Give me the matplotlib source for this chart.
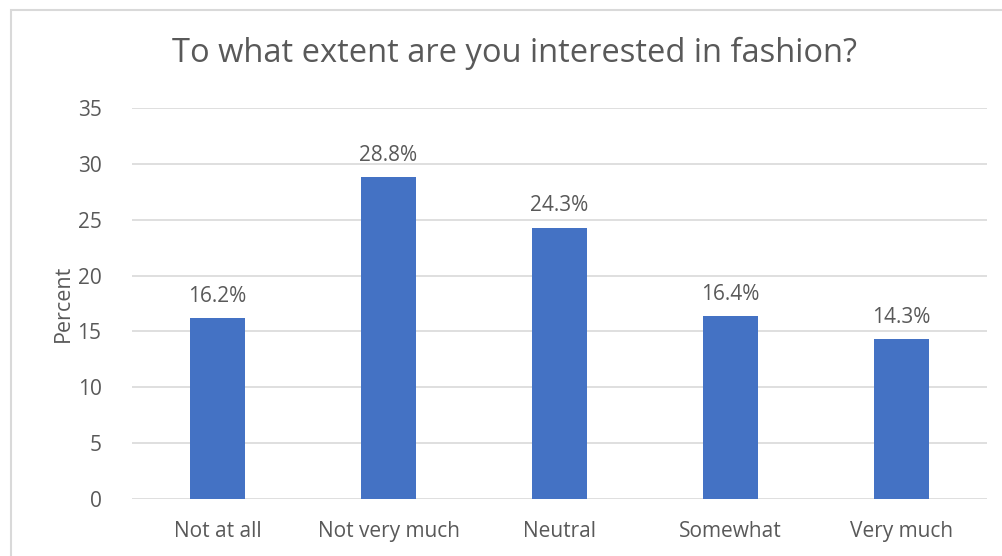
import matplotlib
matplotlib.use("Agg")
import matplotlib.pyplot as plt
from matplotlib.patches import Rectangle

categories = ["Not at all", "Not very much", "Neutral", "Somewhat", "Very much"]
values = [16.2, 28.8, 24.3, 16.4, 14.3]
yticks = [0, 5, 10, 15, 20, 25, 30, 35]
title = "To what extent are you interested in fashion?"
ylabel = "Percent"

plt.rcParams['font.family'] = ['Open Sans', 'DejaVu Sans']
txt = '#595959'
W, H = 1003, 556
fig = plt.figure(figsize=(W/100, H/100), dpi=100)
fig.patches.append(Rectangle((11/W, -0.05), 1.1, 1 - 10/H + 0.05, transform=fig.transFigure,
                             fill=False, edgecolor='#d9d9d9', linewidth=1.5))
ax = fig.add_axes([132/W, 1 - 499/H, (987-132)/W, (499-108)/H])
x = range(len(categories))
bars = ax.bar(x, values, width=0.316, color='#4472C4', zorder=3)
for b, v in zip(bars, values):
    ax.text(b.get_x() + b.get_width()/2, v + 1.0, f"{v:.1f}%", ha='center', va='bottom',
            fontsize=15, color=txt)
ax.set_xlim(-0.5, len(categories) - 0.5)
ax.set_ylim(0, 35)
ax.set_yticks(yticks)
ax.set_xticks(list(x))
ax.set_xticklabels(categories)
ax.yaxis.grid(True, color='#d9d9d9', linewidth=1.2, zorder=0)
for s in ax.spines.values():
    s.set_visible(False)
ax.tick_params(axis='both', length=0, labelsize=15, labelcolor=txt)
ax.tick_params(axis='y', pad=22)
ax.tick_params(axis='x', pad=16)
ax.set_ylabel(ylabel, fontsize=15.5, color=txt)
ax.yaxis.set_label_coords((74 - 132) / (987 - 132), 0.5)
fig.text(514/W, 1 - 53/H, title, ha='center', va='center', fontsize=23.5, color=txt)
fig.savefig("out.png", dpi=100)
